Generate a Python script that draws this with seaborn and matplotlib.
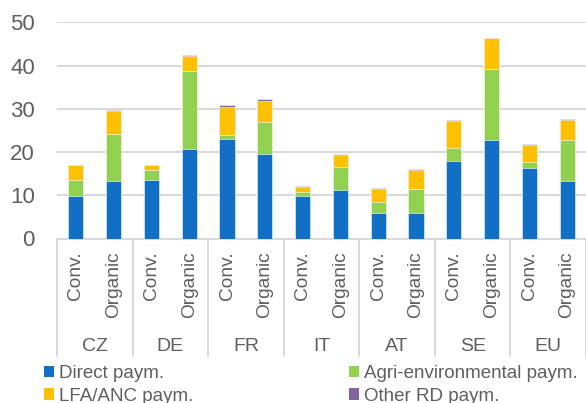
import matplotlib
matplotlib.use("Agg")
import matplotlib.pyplot as plt
from matplotlib.patches import Patch
from matplotlib.transforms import blended_transform_factory
import pandas as pd
import seaborn as sns

countries = ["CZ", "DE", "FR", "IT", "AT", "SE", "EU"]
farm_types = ["Conv.", "Organic"]

# Payments per bar (EUR/ha), ordered CZ Conv., CZ Organic, DE Conv., ...
direct_paym = [9.9, 13.4, 13.6, 20.6, 23.1, 19.6, 9.9, 11.3, 5.9, 5.9, 17.9, 22.7, 16.2, 13.4]
agri_env_paym = [3.6, 10.8, 2.2, 18.1, 0.9, 7.3, 0.8, 5.3, 2.6, 5.6, 3.1, 16.4, 1.5, 9.3]
lfa_anc_paym = [3.5, 5.3, 1.2, 3.6, 6.5, 5.0, 1.3, 2.7, 3.0, 4.4, 6.2, 7.2, 3.9, 4.6]
other_rd_paym = [0.1, 0.2, 0.1, 0.2, 0.4, 0.4, 0.2, 0.3, 0.2, 0.2, 0.1, 0.1, 0.3, 0.3]

series_names = ["Direct paym.", "Agri-environmental paym.", "LFA/ANC paym.", "Other RD paym."]
series_colors = ["#1170C6", "#92D050", "#FFC000", "#8064A2"]

sns.set_theme(style="white")
plt.rcParams["font.family"] = ["Liberation Sans", "DejaVu Sans"]
text_gray = "#5F5F5F"
grid_gray = "#D9D9D9"

bars = [f"{c} {t}" for c in countries for t in farm_types]
df = pd.DataFrame({
    "bar": bars,
    "country": [c for c in countries for _ in farm_types],
    "farm": [t for _ in countries for t in farm_types],
    "direct": direct_paym,
    "agri": agri_env_paym,
    "lfa": lfa_anc_paym,
    "other": other_rd_paym,
})
# cumulative heights for stacking
df["s1"] = df["direct"]
df["s2"] = df["s1"] + df["agri"]
df["s3"] = df["s2"] + df["lfa"]
df["s4"] = df["s3"] + df["other"]

fig = plt.figure(figsize=(5.86, 4.03), dpi=100)
ax = fig.add_axes([57 / 586, 1 - 238.5 / 403, 1 - 57 / 586, (238.5 - 22.3) / 403])

# draw from the full stack down so each layer shows its own segment
for col, color in zip(["s4", "s3", "s2", "s1"], series_colors[::-1]):
    sns.barplot(data=df, x="bar", y=col, order=bars, color=color, width=0.4,
                saturation=1, edgecolor="white", linewidth=0.4, ax=ax, zorder=3)

ax.set_ylim(0, 50)
ax.set_xlim(-0.5, len(bars) - 0.5)
ax.set_yticks([0, 10, 20, 30, 40, 50])
ax.yaxis.grid(True, color=grid_gray, linewidth=1.4, zorder=0)
ax.set_axisbelow(True)
for s in ["top", "right", "left"]:
    ax.spines[s].set_visible(False)
ax.spines["bottom"].set_color(grid_gray)
ax.spines["bottom"].set_linewidth(1.4)
ax.set_xlabel("")
ax.set_ylabel("")

ax.set_xticks(range(len(bars)))
ax.set_xticklabels(df["farm"], rotation=90, va="top", ha="center")
ax.tick_params(axis="x", length=0, pad=9.5, labelsize=13.8, labelcolor=text_gray)
ax.tick_params(axis="y", length=0, pad=16, labelsize=16, labelcolor=text_gray)

# country level labels and group separators below the axis
trans = blended_transform_factory(ax.transData, ax.transAxes)
n_types = len(farm_types)
for i, c in enumerate(countries):
    center = i * n_types + (n_types - 1) / 2
    ax.text(center, -0.5, c, transform=trans, ha="center", va="center",
            fontsize=14, color=text_gray)
for i in range(len(countries) + 1):
    xb = i * n_types - 0.5
    ax.plot([xb, xb], [0, -0.545], transform=trans, color=grid_gray,
            linewidth=1.4, clip_on=False)

handles = [Patch(facecolor=c, edgecolor="none") for c in series_colors]
leg_kw = dict(frameon=False, fontsize=13.5, handlelength=0.55, handleheight=0.55,
              handletextpad=0.25, labelspacing=0.3, borderpad=0, borderaxespad=0,
              labelcolor=text_gray, loc="upper left")
fig.legend([handles[0], handles[2]], [series_names[0], series_names[2]],
           bbox_to_anchor=(44 / 586, 1 - 365 / 403), **leg_kw)
fig.legend([handles[1], handles[3]], [series_names[1], series_names[3]],
           bbox_to_anchor=(349 / 586, 1 - 365 / 403), **leg_kw)

fig.savefig("out.png", dpi=100)
